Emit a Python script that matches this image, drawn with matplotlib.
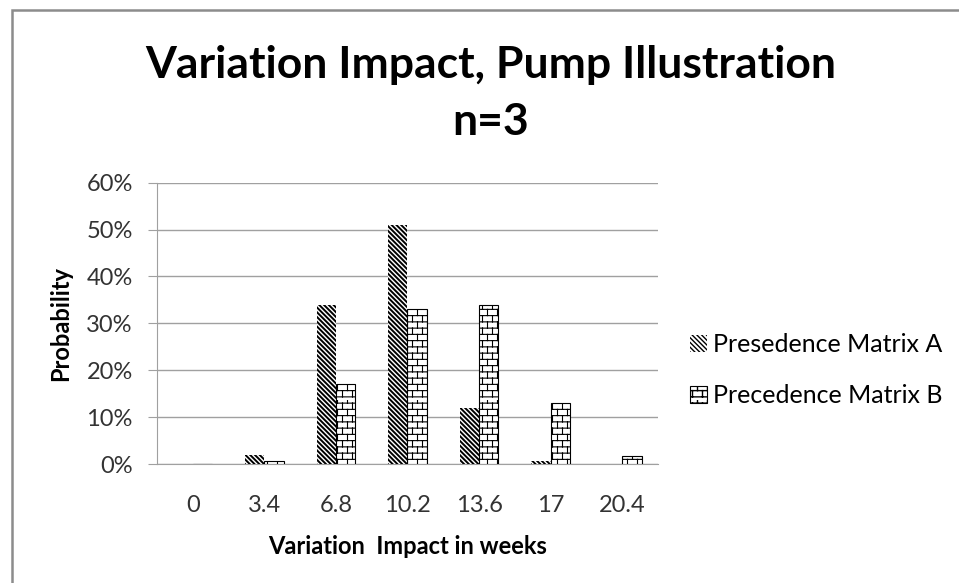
import warnings
import numpy as np
import matplotlib
matplotlib.use("Agg")
import matplotlib.pyplot as plt
import matplotlib.hatch as mhatch
from matplotlib.path import Path
from matplotlib.patches import Rectangle
from matplotlib.ticker import PercentFormatter

warnings.filterwarnings("ignore")

# data
weeks = ["0", "3.4", "6.8", "10.2", "13.6", "17", "20.4"]
matrix_a = [0.0, 0.019, 0.34, 0.51, 0.12, 0.007, 0.0]
matrix_b = [0.0, 0.006, 0.17, 0.33, 0.34, 0.13, 0.017]
label_a = "Presedence Matrix A"
label_b = "Precedence Matrix B"


class BrickHatch(mhatch.HatchPatternBase):
    '''brick pattern, triggered by the letter b in the hatch string'''
    rows = 16
    cols = 10

    def __init__(self, hatch, density):
        n = 1 if 'b' in hatch else 0
        self.num_vertices = n * (self.rows * 2 + self.rows * self.cols * 2)

    def set_vertices_and_codes(self, vertices, codes):
        h = 1.0 / self.rows
        w = 1.0 / self.cols
        i = 0
        for r in range(self.rows):
            y = r * h + h / 2
            vertices[i] = (0.0, y)
            vertices[i + 1] = (1.0, y)
            codes[i] = Path.MOVETO
            codes[i + 1] = Path.LINETO
            i += 2
            off = (r % 2) * w / 2
            for c in range(self.cols):
                x = c * w + off + w / 4
                vertices[i] = (x, y)
                vertices[i + 1] = (x, y + h)
                codes[i] = Path.MOVETO
                codes[i + 1] = Path.LINETO
                i += 2


mhatch._hatch_types.append(BrickHatch)

plt.rcParams['font.family'] = ['Lato', 'DejaVu Sans']

fig = plt.figure(figsize=(9.59, 5.83), dpi=100)
ax = fig.add_axes([0.1637, 0.2041, 0.5224, 0.4825])

x = np.arange(len(weeks))
w = 0.27
bars_a = ax.bar(x - w / 2, matrix_a, w, color='white', edgecolor='black',
                linewidth=0, hatch='\\' * 7, label=label_a, zorder=3)
bars_b = ax.bar(x + w / 2, matrix_b, w, color='white', edgecolor='black',
                linewidth=0.8, hatch='b', label=label_b, zorder=3)
for p in bars_a:
    if hasattr(p, 'set_hatch_linewidth'):
        p.set_hatch_linewidth(1.4)
for p in bars_b:
    if hasattr(p, 'set_hatch_linewidth'):
        p.set_hatch_linewidth(0.8)

ax.set_xlim(-0.5, len(weeks) - 0.5)
ax.set_ylim(0, 0.6)
ax.set_yticks(np.arange(0, 0.61, 0.1))
ax.yaxis.set_major_formatter(PercentFormatter(1.0, decimals=0))
ax.set_xticks(x)
ax.set_xticklabels(weeks)
ax.grid(axis='y', color='#a0a0a0', linewidth=1.0, zorder=0)
ax.set_axisbelow(True)
for s in ['top', 'right']:
    ax.spines[s].set_visible(False)
ax.spines['left'].set_color('#a0a0a0')
ax.spines['bottom'].set_color('#a0a0a0')
ax.tick_params(axis='y', length=6.5, color='#a0a0a0', labelsize=17,
               labelcolor='#333333', pad=11)
ax.tick_params(axis='x', length=0, labelsize=17, labelcolor='#333333', pad=22)

ax.set_ylabel('Probability', fontsize=17, fontweight='bold', labelpad=10)
ax.set_xlabel('Variation  Impact in weeks', fontsize=17, fontweight='bold',
              labelpad=14)

fig.text(0.512, 0.866, 'Variation Impact, Pump Illustration', ha='center',
         va='baseline', fontsize=32, fontweight='bold')
fig.text(0.512, 0.768, 'n=3', ha='center', va='baseline', fontsize=32,
         fontweight='bold')

leg = fig.legend(handles=[bars_a, bars_b], loc='center left',
                 bbox_to_anchor=(0.72, 0.365), frameon=False, fontsize=18,
                 handlelength=0.65, handleheight=0.65, handletextpad=0.25,
                 labelspacing=1.1, borderaxespad=0, borderpad=0)

# outer chart frame
fig.patches.append(Rectangle((12 / 959, -0.05), 1.1, 1 - 10 / 583 + 0.05,
                             transform=fig.transFigure, fill=False,
                             edgecolor='#8c8c8c', linewidth=1.8))

fig.savefig('out.png', dpi=100)
